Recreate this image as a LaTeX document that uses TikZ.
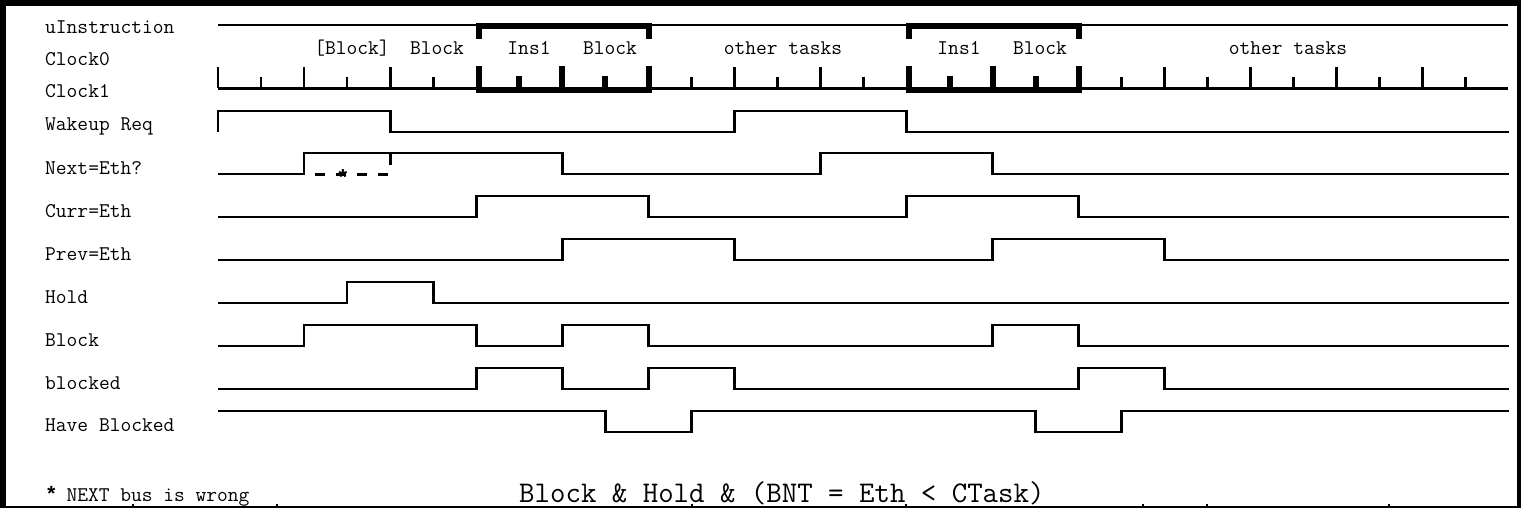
\documentclass[tikz,border=0pt]{standalone}
\usepackage{fontspec}
\newfontfamily\starf{Liberation Mono}
\begin{document}
\begin{tikzpicture}[x=1pt,y=-1pt,
  lbl/.style={anchor=base west,inner sep=0pt,font=\ttfamily\fontsize{20.9}{22}\selectfont},
  clk/.style={anchor=base,inner sep=0pt,font=\ttfamily\fontsize{20.9}{22}\selectfont},
  sig/.style={line width=2.8pt,line join=miter},
  thin/.style={line width=2.8pt},
  thick/.style={line width=6pt},
  frame/.style={fill=black,draw=none}]
\useasboundingbox (0,0) rectangle (1523,508);
\fill[white] (0,0) rectangle (1523,508);
% frame
\fill[frame] (0,0) rectangle (1521,6.5);
\fill[frame] (0,0) rectangle (6,508);
\fill[frame] (1517,0) rectangle (1521,508);
\draw[line width=1.5pt] (0,506.8) -- (1521,506.8);
\foreach \bx in {133,277,692,906,1143,1207,1389}
  \draw[line width=2pt] (\bx,503.5) -- (\bx,506.8);
% labels
\node[lbl] (l1) at (45,34) {uInstruction};
\node[lbl] (l2) at (45,66) {Clock0};
\node[lbl] (l3) at (45,98) {Clock1};
\node[lbl] (l4) at (45,131) {Wakeup Req};
\node[lbl] (l5) at (45,175) {Next=Eth?};
\node[lbl] (l6) at (45,217) {Curr=Eth};
\node[lbl] (l7) at (45,260) {Prev=Eth};
\node[lbl] (l8) at (45,303) {Hold};
\node[lbl] (l9) at (45,346) {Block};
\node[lbl] (l10) at (45,389) {blocked};
\node[lbl] (l11) at (45,431) {Have Blocked};
% clock0 texts
\node[clk] (c1) at (352,55) {[Block]};
\node[clk] (c2) at (437,55) {Block};
\node[clk] (c3) at (529,55) {Ins1};
\node[clk] (c4) at (610,55) {Block};
\node[clk] (c5) at (783,55) {other tasks};
\node[clk] (c6) at (959,55) {Ins1};
\node[clk] (c7) at (1040,55) {Block};
\node[clk] (c8) at (1288,55) {other tasks};
% footer
\node[lbl] (f1) at (45,501) {{\starf\bfseries *}\hspace{-2pt} NEXT bus is wrong};
\node[anchor=base west,inner sep=0pt,font=\ttfamily\fontsize{30}{32}\selectfont] (f2) at (519,502) {Block \& Hold \& (BNT = Eth < CTask)};
% uInstruction line
\draw[thin] (218,25) -- (1508,25);
\draw[thick] (476,26) -- (652,26);
\draw[thick] (479,23) -- (479,39);
\draw[thick] (649,23) -- (649,39);
\draw[thick] (906,26) -- (1082,26);
\draw[thick] (909,23) -- (909,39);
\draw[thick] (1079,23) -- (1079,39);
% clock baseline
\draw[thin] (218,88.5) -- (1508,88.5);
\draw[thick] (476,90) -- (652,90);
\draw[thick] (906,90) -- (1082,90);
\draw[thick] (479,66) -- (479,93);
\draw[thick] (649,66) -- (649,93);
\draw[thick] (909,66) -- (909,93);
\draw[thick] (1079,66) -- (1079,93);
\begin{scope}[shift={(218pt,0pt)},x=43.03pt,y=-1pt]
  % thin ticks
  \foreach \k in {0,2,4,12,14,22,24,26,28}
    \draw[thin] (\k,67) -- (\k,88.5);
  \foreach \k in {1,3,5,11,13,15,21,23,25,27,29}
    \draw[thin] (\k,77) -- (\k,88.5);
  % thick ticks inside brackets
  \foreach \k in {8,18}
    \draw[thick] (\k,66) -- (\k,90);
  \foreach \k in {7,9,17,19}
    \draw[thick] (\k,76) -- (\k,90);
  % Wakeup Req
  \draw[sig] (0,132)--(0,111)--(4,111)--(4,132)--(12,132)--(12,111)--(16,111)--(16,132)--(30,132);
  % Next=Eth?
  \draw[sig] (0,174)--(2,174)--(2,153)--(8,153)--(8,174)--(14,174)--(14,153)--(18,153)--(18,174)--(30,174);
  \draw[sig] (4,153)--(4,165);
  % Curr=Eth
  \draw[sig] (0,217)--(6,217)--(6,196)--(10,196)--(10,217)--(16,217)--(16,196)--(20,196)--(20,217)--(30,217);
  % Prev=Eth
  \draw[sig] (0,260)--(8,260)--(8,239)--(12,239)--(12,260)--(18,260)--(18,239)--(22,239)--(22,260)--(30,260);
  % Hold
  \draw[sig] (0,303)--(3,303)--(3,282)--(5,282)--(5,303)--(30,303);
  % Block
  \draw[sig] (0,346)--(2,346)--(2,325)--(6,325)--(6,346)--(8,346)--(8,325)--(10,325)--(10,346)--(18,346)--(18,325)--(20,325)--(20,346)--(30,346);
  % blocked
  \draw[sig] (0,389)--(6,389)--(6,368)--(8,368)--(8,389)--(10,389)--(10,368)--(12,368)--(12,389)--(20,389)--(20,368)--(22,368)--(22,389)--(30,389);
  % Have Blocked
  \draw[sig] (0,411)--(9,411)--(9,432)--(11,432)--(11,411)--(19,411)--(19,432)--(21,432)--(21,411)--(30,411);
\end{scope}
% dashed wrong NEXT segment
\draw[line width=3pt,dash pattern=on 10pt off 11pt] (315,174) -- (390,174);
\node[anchor=base,inner sep=0pt,font=\starf\bfseries\fontsize{22}{24}\selectfont] (star) at (343,185) {*};
\end{tikzpicture}
\end{document}
